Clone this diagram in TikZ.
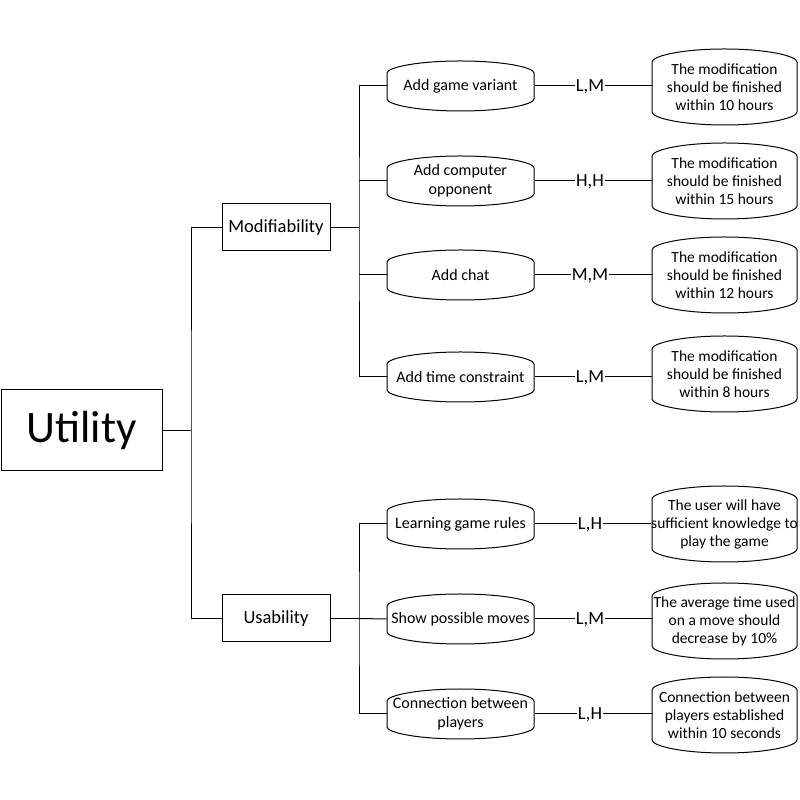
\documentclass[tikz,border=0pt]{standalone}
\usepackage{fontspec}
\setmainfont{Carlito}

% barrel outline round a node: node, half width, half side, bulge
\newcommand\barrel[4]{%
  \draw[shift={(#1.center)}] (-#2,#3) -- (-#2,-#3)
    .. controls +(0,-0.45*#4) and +(-0.6*#2,0) .. (0,-#3-#4)
    .. controls +(0.6*#2,0) and +(0,-0.45*#4) .. (#2,-#3)
    -- (#2,#3)
    .. controls +(0,0.45*#4) and +(0.6*#2,0) .. (0,#3+#4)
    .. controls +(-0.6*#2,0) and +(0,0.45*#4) .. (-#2,#3) -- cycle;}

\begin{document}
\begin{tikzpicture}[x=1pt,y=1pt,line width=1pt,
  attr/.style={draw,minimum width=108pt,minimum height=47pt,inner sep=0pt,
    font=\fontsize{18.5}{22}\selectfont},
  scen/.style={minimum width=147pt,inner sep=0pt,align=center,
    font=\fontsize{16}{19}\selectfont},
  resp/.style={minimum width=145pt,inner sep=0pt,align=center,
    font=\fontsize{15.5}{18}\selectfont},
  prio/.style={inner sep=0.5pt,text height=12pt,text depth=0pt,
    font=\fontsize{18.5}{22}\selectfont}]
\useasboundingbox (0,0) rectangle (800,800);

\node[draw,minimum width=161pt,minimum height=81pt,inner sep=0pt,
  font=\fontsize{45}{50}\selectfont] (utility) at (81.5,369.5) {Utility};
\node[attr] (modif) at (276,572.5) {Modifiability};
\node[attr] (usab) at (276,181.5) {Usability};

\coordinate (jroot) at (191,369.5);
\coordinate (jmod) at (359,572.5);
\coordinate (jusa) at (359,181.5);

% scenarios
\node[scen] (sc1) at (460.5,714) {Add game variant};
\node[scen] (sc2) at (460.5,619) {Add computer\\opponent};
\node[scen] (sc3) at (460.5,525) {Add chat};
\node[scen] (sc4) at (460.5,423) {Add time constraint};
\node[scen] (sc5) at (460.5,276) {Learning game rules};
\node[scen] (sc6) at (460.5,181) {Show possible moves};
\node[scen] (sc7) at (460.5,86) {Connection between\\players};

% priorities
\node[prio] (pr1) at (590,714) {L,M};
\node[prio] (pr2) at (590,619) {H,H};
\node[prio] (pr3) at (590,525) {M,M};
\node[prio] (pr4) at (590,423) {L,M};
\node[prio] (pr5) at (590,276) {L,H};
\node[prio] (pr6) at (590,181) {L,M};
\node[prio] (pr7) at (590,86) {L,H};

% responses
\node[resp] (re1) at (724.5,713) {The modification\\should be finished\\within 10 hours};
\node[resp] (re2) at (724.5,619) {The modification\\should be finished\\within 15 hours};
\node[resp] (re3) at (724.5,525) {The modification\\should be finished\\within 12 hours};
\node[resp] (re4) at (724.5,426) {The modification\\should be finished\\within 8 hours};
\node[resp] (re5) at (724.5,276) {The user will have\\sufficient knowledge to\\play the game};
\node[resp] (re6) at (724.5,179) {The average time used\\on a move should\\decrease by 10\%};
\node[resp] (re7) at (724.5,85) {Connection between\\players established\\within 10 seconds};

\barrel{sc1}{73.5}{13}{12}
\barrel{sc2}{73.5}{13}{12}
\barrel{sc3}{73.5}{13}{12}
\barrel{sc4}{73.5}{13}{12}
\barrel{sc5}{73.5}{13}{12}
\barrel{sc6}{73.5}{13}{12}
\barrel{sc7}{73.5}{13}{12}
\barrel{re1}{72.5}{25}{13}
\barrel{re2}{72.5}{25}{13}
\barrel{re3}{72.5}{25}{13}
\barrel{re4}{72.5}{25}{13}
\barrel{re5}{72.5}{25}{13}
\barrel{re6}{72.5}{25}{13}
\barrel{re7}{72.5}{25}{13}

% tree
\draw (utility) -- (jroot);
\draw (modif.west) -| (jroot) |- (usab.west);
\draw (modif) -- (jmod);
\draw (sc1.west) -| (jmod) |- (sc4.west);
\draw (sc2.west) -- (sc2.west -| jmod);
\draw (sc3.west) -- (sc3.west -| jmod);
\draw (usab) -- (jusa);
\draw (sc5.west) -| (jusa) |- (sc7.west);
\draw (sc6.west) -- (jusa);

\draw (sc1) -- (pr1) -- (sc1 -| re1.west);
\draw (sc2) -- (pr2) -- (sc2 -| re2.west);
\draw (sc3) -- (pr3) -- (sc3 -| re3.west);
\draw (sc4) -- (pr4) -- (sc4 -| re4.west);
\draw (sc5) -- (pr5) -- (sc5 -| re5.west);
\draw (sc6) -- (pr6) -- (sc6 -| re6.west);
\draw (sc7) -- (pr7) -- (sc7 -| re7.west);
\end{tikzpicture}
\end{document}
